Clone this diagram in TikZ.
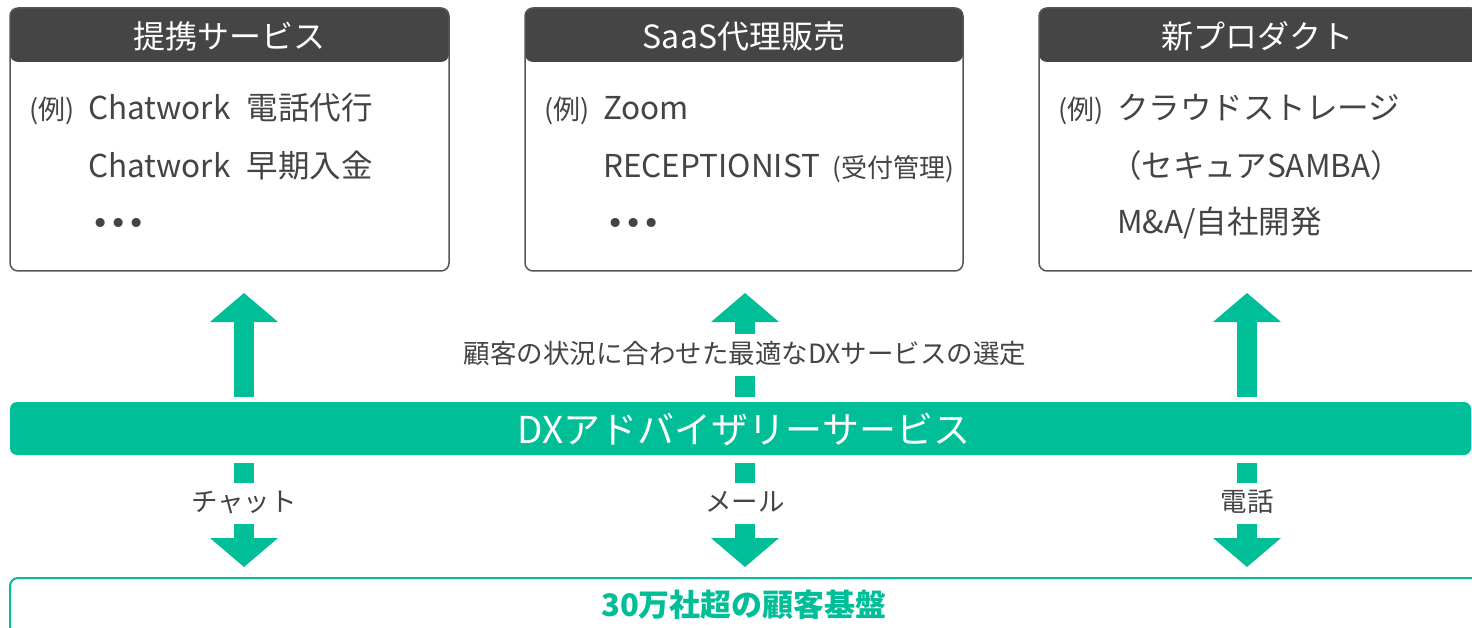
\documentclass[tikz,border=0pt]{standalone}
\usepackage{fontspec}
\setmainfont{Noto Sans CJK JP}
\newfontfamily\dv{DejaVu Sans}
\usetikzlibrary{arrows.meta}
\definecolor{grn}{HTML}{00BE98}
\definecolor{hdr}{HTML}{454545}
\definecolor{txt}{HTML}{444444}
\definecolor{brd}{HTML}{555555}
\begin{document}
\begin{tikzpicture}[x=1pt,y=-1pt,
  card/.style={draw=brd, line width=1.5pt, rounded corners=8pt, fill=white,
    minimum width=#1, minimum height=263pt, inner sep=0pt, outer sep=0pt, anchor=north west,
    path picture={\fill[hdr] (path picture bounding box.north west) rectangle ([yshift=-54pt]path picture bounding box.north east);}},
  hdrtxt/.style={text=white, font=\fontsize{32}{38}\selectfont, inner sep=0pt},
  body/.style={text=txt, font=\fontsize{31.5}{37}\selectfont, anchor=base west, inner sep=0pt},
  rei/.style={text=txt, font=\fontsize{27}{32}\selectfont, anchor=base west, inner sep=0pt},
  subt/.style={text=txt, font=\fontsize{26}{31}\selectfont, anchor=base west, inner sep=0pt},
  dots/.style={text=txt, font=\dv\fontsize{31}{37}\selectfont, anchor=base west, inner sep=0pt},
  bar/.style={fill=grn, rounded corners=7pt, minimum width=1461pt, minimum height=53pt, inner sep=0pt, outer sep=0pt, anchor=north west},
  dxtxt/.style={text=white, font=\fontsize{37}{44}\selectfont, inner sep=0pt},
  basebox/.style={draw=grn, line width=2pt, rounded corners=8pt, minimum width=1480pt, minimum height=80pt, inner sep=0pt, outer sep=0pt, anchor=north west},
  basetxt/.style={text=grn, font=\bfseries\fontsize{31}{37}\selectfont, inner sep=0pt},
  blk/.style={draw=grn, line width=20pt, -{Triangle[width=68pt 0 0, length=29pt 0 0, line width'=0pt]}},
  lbl/.style={fill=white, text=txt, font=\fontsize{26.5}{32}\selectfont, inner xsep=2pt, inner ysep=0pt, text height=21pt, text depth=5pt}
]
\useasboundingbox (0,0) rectangle (1472,628);

% cards
\node[card=439pt] (box1) at (10,8) {};
\node[card=438pt] (box2) at (525,8) {};
\node[card=440pt] (box3) at (1039,8) {};

\node[hdrtxt] (h1) at (229.5,36) {提携サービス};
\node[hdrtxt] (h2) at (744,36) {SaaS代理販売};
\node[hdrtxt] (h3) at (1257,36) {新プロダクト};

% box 1 text
\node[rei] (r1) at (29,119.5) {(例)};
\node[body] (b11) at (88,119.5) {Chatwork\hspace{0.3em} 電話代行};
\node[body] (b12) at (88,178) {Chatwork\hspace{0.3em} 早期入金};
\node[dots] (d1) at (91,234.5) {•••};

% box 2 text
\node[rei] (r2) at (544,119.5) {(例)};
\node[body] (b21) at (603,119.5) {Zoom};
\node[body] (b22) at (603,178) {RECEPTIONIST};
\node[subt] (b22s) at ([xshift=12pt]b22.base east) {(受付管理)};
\node[dots] (d2) at (606,234.5) {•••};

% box 3 text
\node[rei] (r3) at (1058,119.5) {(例)};
\node[body] (b31) at (1117,119.5) {クラウドストレージ};
\node[body] (b32) at (1110,178) {（セキュアSAMBA）};
\node[body] (b33) at (1117,234) {M\&A/自社開発};

% DX bar
\node[bar] (dx) at (10,402) {};
\node[dxtxt] (dxl) at (744,429) {DXアドバイザリーサービス};

% base
\node[basebox] (base) at (10,578) {};
\node[basetxt] (basel) at (744,605) {30万社超の顧客基盤};

% arrow columns
\coordinate (x1) at (244,0);
\coordinate (x2) at (745,0);
\coordinate (x3) at (1247,0);

\draw[blk] ([yshift=5pt]dx.north -| x1) -- ([yshift=-22pt]box1.south -| x1);
\draw[blk] ([yshift=5pt]dx.north -| x2) -- ([yshift=-22pt]box2.south -| x2);
\draw[blk] ([yshift=5pt]dx.north -| x3) -- ([yshift=-22pt]box3.south -| x3);

\draw[blk] ([yshift=-8pt]dx.south -| x1) -- ([yshift=11pt]base.north -| x1);
\draw[blk] ([yshift=-8pt]dx.south -| x2) -- ([yshift=11pt]base.north -| x2);
\draw[blk] ([yshift=-8pt]dx.south -| x3) -- ([yshift=11pt]base.north -| x3);

\node[lbl, minimum height=42pt] (sel) at (745,355) {顧客の状況に合わせた最適なDXサービスの選定};
\node[lbl, minimum height=41pt] (m1) at (244,503.5) {チャット};
\node[lbl, minimum height=41pt] (m2) at (745,503.5) {メール};
\node[lbl, minimum height=41pt] (m3) at (1247,503.5) {電話};
\end{tikzpicture}
\end{document}
